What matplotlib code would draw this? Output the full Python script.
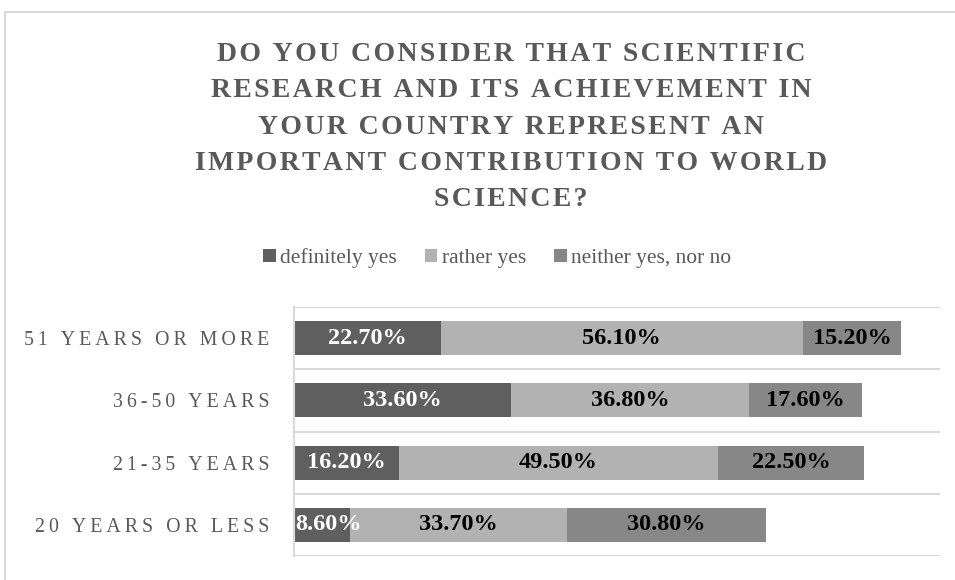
import matplotlib.pyplot as plt
from matplotlib.patches import Rectangle
import numpy as np

plt.rcParams['font.family'] = ['Liberation Serif', 'DejaVu Serif']

categories = ['20 years or less', '21-35 years', '36-50 years', '51 years or more']
series = ['definitely yes', 'rather yes', 'neither yes, nor no']
definitely_yes = [8.6, 16.2, 33.6, 22.7]
rather_yes = [33.7, 49.5, 36.8, 56.1]
neither = [30.8, 22.5, 17.6, 15.2]
title_lines = ['DO YOU CONSIDER THAT SCIENTIFIC', 'RESEARCH AND ITS ACHIEVEMENT IN',
               'YOUR COUNTRY REPRESENT AN', 'IMPORTANT CONTRIBUTION TO WORLD', 'SCIENCE?']

colors = ['#5f5f5f', '#b2b2b2', '#878787']
label_colors = ['white', 'black', 'black']
grey_txt = '#595959'


def spaced(s, sp='\u200a'):
    # poor man's letter spacing
    return sp.join(list(s))


fig = plt.figure(figsize=(9.55, 5.8), dpi=100)
ax = fig.add_axes([294/955, 1-556/580, (940-294)/955, (556-307)/580])

y = np.arange(len(categories))
left = np.zeros(len(categories))
for vals, col, lc, name in zip([definitely_yes, rather_yes, neither], colors, label_colors, series):
    bars = ax.barh(y, vals, left=left, height=0.55, color=col, label=name)
    for b, v, l in zip(bars, vals, left):
        yc = b.get_y() + b.get_height()/2
        if v < 10 and l == 0:
            # too narrow: keep it inside the plot like excel does
            ax.text(0.2, yc, f'{v:.2f}%', ha='left', va='center', color=lc,
                    fontsize=17.5, fontweight='bold')
        else:
            ax.text(l + v/2, yc, f'{v:.2f}%', ha='center', va='center', color=lc,
                    fontsize=17.5, fontweight='bold')
    left = left + np.array(vals)

ax.set_xlim(0, 100)
ax.set_ylim(-0.5, len(categories) - 0.5)
for g in np.arange(-0.5, len(categories), 1):
    ax.axhline(g, color='#d9d9d9', lw=1.5, zorder=0)
for s in ['top', 'right', 'bottom']:
    ax.spines[s].set_visible(False)
ax.spines['left'].set_color('#d9d9d9')
ax.spines['left'].set_linewidth(1.5)
ax.set_xticks([])
ax.set_yticks(y)
ax.set_yticklabels([spaced(c.upper(), '\u2009') for c in categories], fontsize=14.3, color=grey_txt)
ax.tick_params(axis='y', length=0, pad=18)

# chart border
fig.patches.append(Rectangle((5/955, -0.1), 2, 1 - 12/580 + 0.1, transform=fig.transFigure,
                             fill=False, edgecolor='#d9d9d9', lw=1.5))

# title, one line at a time so the spacing can be set
for i, line in enumerate(title_lines):
    fig.text(511/955, 1 - (61 + 36.3*i)/580, spaced(line), ha='center', va='baseline',
             fontsize=20, fontweight='bold', color=grey_txt)

fig.legend(loc='center', bbox_to_anchor=(497/955, 1 - 258/580), ncol=3, frameon=False,
           handlelength=0.6, handleheight=0.6, handletextpad=0.2, columnspacing=1.3,
           prop={'size': 15.5}, labelcolor=grey_txt)

fig.savefig('out.png', dpi=100)
